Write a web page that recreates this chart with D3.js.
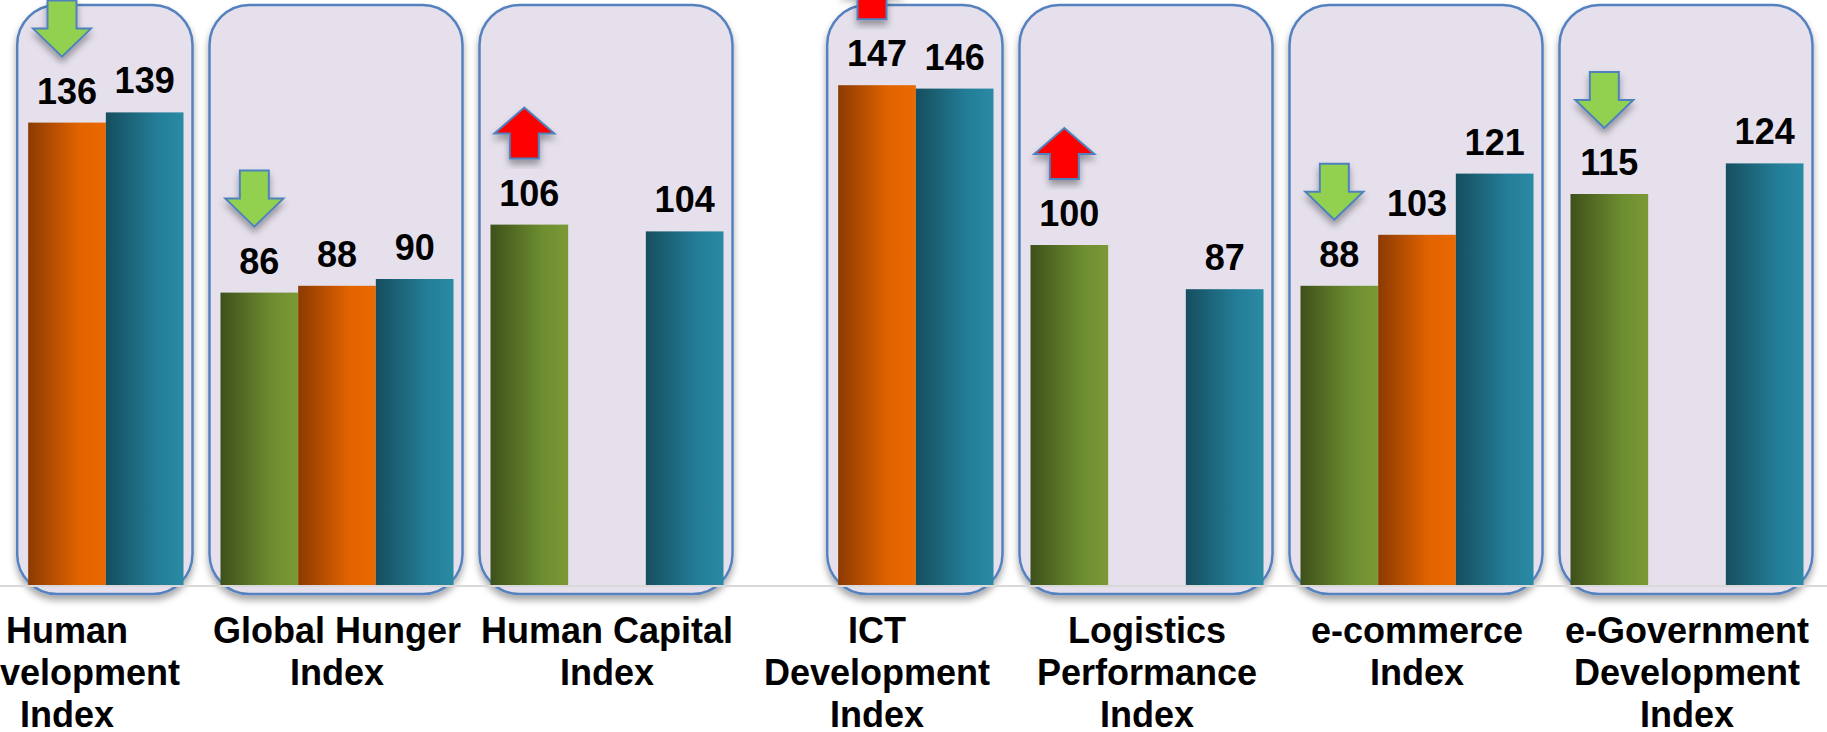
<!DOCTYPE html>
<html>
<head>
<meta charset="utf-8">
<script src="https://cdn.jsdelivr.net/npm/d3@7"></script>
<style>
  body { margin: 0; background: #fff; }
  text { font-family: "Liberation Sans", Arial, sans-serif; font-weight: bold; }
</style>
</head>
<body>
<div id="chart-area"></div>
<script>
// categories (line breaks as in the picture)
const categories = [
  "Human\nDevelopment\nIndex",
  "Global Hunger\nIndex",
  "Human Capital\nIndex",
  "ICT\nDevelopment\nIndex",
  "Logistics\nPerformance\nIndex",
  "e-commerce\nIndex",
  "e-Government\nDevelopment\nIndex"
];
const seriesNames = ["green", "orange", "teal"];
const greenValues  = [null, 86, 106, null, 100, 88, 115];
const orangeValues = [136, 88, null, 147, null, 103, null];
const tealValues   = [139, 90, 104, 146, 87, 121, 124];

// arrows drawn above a bar: [category index, series, direction]
const arrowCats   = [0, 1, 2, 3, 4, 5, 6];
const arrowSeries = ["orange", "green", "green", "orange", "green", "green", "green"];
const arrowDirs   = ["down", "down", "up", "up", "up", "down", "down"];

const width = 1827;
const height = 732;
const baseY = 585;

const svg = d3.select("#chart-area")
  .append("svg")
    .attr("width", width)
    .attr("height", height);

const defs = svg.append("defs");

const gradColors = {
  green: ["#3e501a", "#6c8c30", "#7b9a36"],
  orange: ["#8c3a02", "#e16300", "#ea6900"],
  teal: ["#164e5f", "#237d96", "#2a8aa4"]
};
Object.keys(gradColors).forEach(k => {
  const lg = defs.append("linearGradient")
    .attr("id", "grad-" + k)
    .attr("x1", "0%").attr("x2", "100%")
    .attr("y1", "0%").attr("y2", "0%");
  lg.append("stop").attr("offset", "0%").attr("stop-color", gradColors[k][0]);
  lg.append("stop").attr("offset", "65%").attr("stop-color", gradColors[k][1]);
  lg.append("stop").attr("offset", "100%").attr("stop-color", gradColors[k][2]);
});

const shadow = defs.append("filter")
  .attr("id", "shadow")
  .attr("x", "-20%").attr("y", "-20%")
  .attr("width", "140%").attr("height", "140%");
shadow.append("feDropShadow")
  .attr("dx", 0).attr("dy", 5)
  .attr("stdDeviation", 3.5)
  .attr("flood-color", "#000")
  .attr("flood-opacity", 0.35);

const data = categories.map((c, i) => ({
  cat: c,
  values: [
    { key: "green", value: greenValues[i] },
    { key: "orange", value: orangeValues[i] },
    { key: "teal", value: tealValues[i] }
  ]
}));

const x = d3.scaleBand()
  .domain(categories)
  .range([-68, 1822])
  .paddingInner(0.137)
  .paddingOuter(0.0685);

const xSub = d3.scaleBand()
  .domain(seriesNames)
  .range([0, x.bandwidth()]);

const y = d3.scaleLinear()
  .domain([0, 150])
  .range([baseY, baseY - 510]);

// rounded boxes around the bars that exist in each group
const boxes = svg.append("g").attr("class", "boxes");
data.forEach(d => {
  const present = d.values.filter(v => v.value != null);
  const x0 = x(d.cat) + xSub(present[0].key) - 11;
  const x1 = x(d.cat) + xSub(present[present.length - 1].key) + xSub.bandwidth() + 9;
  boxes.append("rect")
    .attr("x", x0)
    .attr("y", 5)
    .attr("width", x1 - x0)
    .attr("height", 589)
    .attr("rx", 40)
    .attr("fill", "#e5e0ec")
    .attr("stroke", "#5582bf")
    .attr("stroke-width", 2.5)
    .attr("filter", "url(#shadow)");
});

// baseline
svg.append("line")
  .attr("x1", 0).attr("x2", width)
  .attr("y1", baseY + 1).attr("y2", baseY + 1)
  .attr("stroke", "#d9d9d9")
  .attr("stroke-width", 2);

const groups = svg.selectAll("g.group")
  .data(data)
  .enter()
  .append("g")
    .attr("class", "group")
    .attr("transform", d => `translate(${x(d.cat)}, 0)`);

groups.selectAll("rect")
  .data(d => d.values.filter(v => v.value != null))
  .enter()
  .append("rect")
    .attr("x", v => xSub(v.key))
    .attr("y", v => y(v.value))
    .attr("width", xSub.bandwidth())
    .attr("height", v => baseY - y(v.value))
    .attr("fill", v => `url(#grad-${v.key})`);

groups.selectAll("text.value")
  .data(d => d.values.filter(v => v.value != null))
  .enter()
  .append("text")
    .attr("class", "value")
    .attr("x", v => xSub(v.key) + xSub.bandwidth() / 2)
    .attr("y", v => y(v.value) - 19)
    .attr("text-anchor", "middle")
    .attr("font-size", "36px")
    .attr("fill", "#000")
    .text(v => v.value);

// arrows
const downPath = "M-14.5,-56L14.5,-56L14.5,-28L29,-28L0,0L-29,-28L-14.5,-28Z";
const upPath = "M-14.5,0L14.5,0L14.5,-25L30,-25L0,-51L-30,-25L-14.5,-25Z";
arrowCats.forEach((ci, i) => {
  const d = data[ci];
  const v = d.values.find(s => s.key === arrowSeries[i]).value;
  const cx = x(d.cat) + xSub(arrowSeries[i]) + xSub.bandwidth() / 2 - 5;
  const bottom = y(v) - 66;
  svg.append("path")
    .attr("d", arrowDirs[i] === "down" ? downPath : upPath)
    .attr("transform", `translate(${cx}, ${bottom})`)
    .attr("fill", arrowDirs[i] === "down" ? "#92d050" : "#ff0000")
    .attr("stroke", "#4f81bd")
    .attr("stroke-width", 2)
    .attr("filter", "url(#shadow)");
});

// category labels
const xAxis = svg.append("g")
  .attr("class", "x-axis")
  .attr("transform", `translate(0, ${baseY})`)
  .call(d3.axisBottom(x).tickSize(0).tickFormat(""));
xAxis.select(".domain").remove();

xAxis.selectAll(".tick text")
  .attr("y", 0)
  .attr("dy", null)
  .attr("font-size", "36px")
  .attr("font-family", "Liberation Sans, Arial, sans-serif")
  .attr("font-weight", "bold")
  .attr("fill", "#000")
  .each(function(d) {
    const t = d3.select(this);
    d.split("\n").forEach((line, i) => {
      t.append("tspan")
        .attr("x", 0)
        .attr("y", 58 + i * 42)
        .text(line);
    });
  });
</script>
</body>
</html>
